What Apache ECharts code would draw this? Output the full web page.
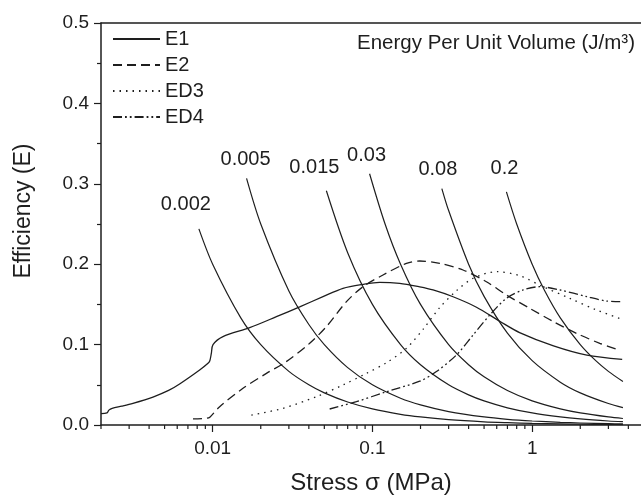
<!DOCTYPE html>
<html>
<head>
<meta charset="utf-8">
<script src="https://cdn.jsdelivr.net/npm/echarts@6/dist/echarts.min.js"></script>
<style>
  html, body { margin: 0; padding: 0; background: #fff; }
  #main { width: 641px; height: 497px; }
</style>
</head>
<body>
<div id="main"></div>
<script>
// 数据：横轴为应力 σ (MPa)，纵轴为效率 E
var e1Data = [[0.002, 0.0142], [0.00218, 0.0150], [0.00224, 0.0185], [0.00235, 0.0208], [0.0027, 0.0235],
    [0.00317, 0.027], [0.00423, 0.0348], [0.0053, 0.043], [0.00621, 0.051], [0.00829, 0.0684],
    [0.00935, 0.0767], [0.0096, 0.080], [0.00981, 0.089], [0.01005, 0.100], [0.0116, 0.110],
    [0.01705, 0.121], [0.02506, 0.1347], [0.03505, 0.147], [0.04905, 0.1596], [0.06546, 0.170],
    [0.0873, 0.175], [0.111, 0.1775], [0.1482, 0.1762], [0.1978, 0.1718], [0.2396, 0.168],
    [0.3197, 0.1595], [0.448, 0.1465], [0.627, 0.129], [0.834, 0.115], [1.36, 0.0985],
    [2.2, 0.087], [3.66, 0.0817]];
var e2Data = [[0.00753, 0.0075], [0.0092, 0.0085], [0.0096, 0.0096], [0.01106, 0.0228], [0.01548, 0.0456],
    [0.0217, 0.0642], [0.0289, 0.0788], [0.0405, 0.1016], [0.0515, 0.1223], [0.0688, 0.1534],
    [0.0873, 0.172], [0.1165, 0.1866], [0.1633, 0.201], [0.1978, 0.204], [0.2638, 0.201],
    [0.369, 0.1928], [0.5169, 0.1782], [0.690, 0.1617], [0.966, 0.1451], [1.36, 0.1285],
    [1.894, 0.114], [2.651, 0.1016], [3.5, 0.0933]];
var ed3Data = [[0.01747, 0.0124], [0.02755, 0.0207], [0.0446, 0.0352], [0.06546, 0.0498], [0.0917, 0.0642],
    [0.1224, 0.0775], [0.1633, 0.0954], [0.2074, 0.119], [0.2638, 0.146], [0.3357, 0.167],
    [0.427, 0.1825], [0.598, 0.1907], [0.834, 0.1857], [1.17, 0.172], [1.72, 0.1576],
    [2.526, 0.143], [3.66, 0.1315]];
var ed4Data = [[0.054, 0.0199], [0.0794, 0.029], [0.1224, 0.0414], [0.1978, 0.0545], [0.2516, 0.0665],
    [0.3357, 0.0871], [0.427, 0.112], [0.5428, 0.1368], [0.690, 0.1576], [0.878, 0.168],
    [1.116, 0.172], [1.489, 0.168], [2.2, 0.1596], [2.92, 0.1542], [3.66, 0.1534]];

// 等能量曲线（单位体积能量 J/m3）
var isoLevels = ['0.002', '0.005', '0.015', '0.03', '0.08', '0.2'];
var iso002 = [[0.0082, 0.2439], [0.01, 0.2], [0.015, 0.1333], [0.02, 0.1], [0.03, 0.0667], [0.04, 0.05],
    [0.05, 0.04], [0.07, 0.0286], [0.1, 0.02], [0.15, 0.0133], [0.2, 0.01], [0.3, 0.0067],
    [0.5, 0.004], [0.7, 0.0029], [1, 0.002], [1.5, 0.0013], [2, 0.001], [3, 0.00067], [3.7, 0.00054]];
var iso005 = [[0.0163, 0.3067], [0.02, 0.25], [0.03, 0.1667], [0.04, 0.125], [0.05, 0.1], [0.07, 0.0714],
    [0.1, 0.05], [0.15, 0.0333], [0.2, 0.025], [0.3, 0.0167], [0.5, 0.01], [0.7, 0.0071],
    [1, 0.005], [1.5, 0.0033], [2, 0.0025], [3, 0.0017], [3.7, 0.00135]];
var iso015 = [[0.0515, 0.2913], [0.07, 0.2143], [0.1, 0.15], [0.15, 0.1], [0.2, 0.075], [0.3, 0.05],
    [0.4, 0.0375], [0.5, 0.03], [0.7, 0.0214], [1, 0.015], [1.5, 0.01], [2, 0.0075], [3, 0.005], [3.7, 0.0041]];
var iso03 = [[0.096, 0.3125], [0.12, 0.25], [0.15, 0.2], [0.2, 0.15], [0.3, 0.1], [0.4, 0.075],
    [0.5, 0.06], [0.7, 0.0429], [1, 0.03], [1.5, 0.02], [2, 0.015], [3, 0.01], [3.7, 0.0081]];
var iso08 = [[0.272, 0.2941], [0.3, 0.2667], [0.4, 0.2], [0.5, 0.16], [0.7, 0.1143], [1, 0.08],
    [1.5, 0.0533], [2, 0.04], [3, 0.0267], [3.7, 0.0216]];
var iso2 = [[0.69, 0.2899], [0.8, 0.25], [1, 0.2], [1.2, 0.1667], [1.5, 0.1333], [2, 0.1],
    [2.5, 0.08], [3, 0.0667], [3.7, 0.0541]];
var isoData = [iso002, iso005, iso015, iso03, iso08, iso2];

// 对数轴次刻度位置
var xMinorTicks = [0.002, 0.003, 0.004, 0.005, 0.006, 0.007, 0.008, 0.009,
    0.02, 0.03, 0.04, 0.05, 0.06, 0.07, 0.08, 0.09,
    0.2, 0.3, 0.4, 0.5, 0.6, 0.7, 0.8, 0.9, 2, 3, 4];

var ink = '#1e1e1e';
var font = 'Liberation Sans, Arial, sans-serif';
// 曲线标签相对起点的偏移
var isoLabelOffsets = [[-13, -24], [-1, -19], [-12, -23], [-3, -18], [-4, -19], [-2, -23]];

var myChart = echarts.init(document.getElementById('main'));

var series = [];
var mainNames = ['E1', 'E2', 'ED3', 'ED4'];
var mainData = [e1Data, e2Data, ed3Data, ed4Data];
var mainDash = ['solid', [9, 5], [1.5, 5], [9, 3, 1.8, 3, 1.8, 3]];
mainNames.forEach(function (name, i) {
    series.push({
        name: name,
        type: 'line',
        data: mainData[i],
        symbol: 'none',
        smooth: 0.3,
        lineStyle: { color: ink, width: 1.3, type: mainDash[i] },
        itemStyle: { color: ink },
        z: 3
    });
});

isoData.forEach(function (arr, i) {
    var data = arr.map(function (p, j) {
        if (j !== 0) return p;
        return {
            value: p,
            label: {
                show: true,
                formatter: isoLevels[i],
                position: isoLabelOffsets[i],
                align: 'center',
                verticalAlign: 'middle',
                fontSize: 20,
                fontFamily: font,
                color: ink
            }
        };
    });
    series.push({
        name: 'W' + isoLevels[i],
        type: 'line',
        data: data,
        symbol: 'circle',
        symbolSize: 0,
        showSymbol: true,
        smooth: 0.3,
        lineStyle: { color: ink, width: 1.2 },
        itemStyle: { color: ink },
        z: 2
    });
});

series.push({
    type: 'custom',
    silent: true,
    data: xMinorTicks.map(function (v) { return [v, 0]; }),
    encode: { x: 0, y: 1 },
    renderItem: function (params, api) {
        var p = api.coord([api.value(0), 0]);
        return {
            type: 'line',
            shape: { x1: p[0], y1: p[1], x2: p[0], y2: p[1] + 4 },
            style: { stroke: ink, lineWidth: 1.2 }
        };
    },
    z: 5
});

var option = {
    animation: false,
    backgroundColor: '#fff',
    title: {
        text: 'Energy Per Unit Volume (J/m³)',
        right: 1,
        top: 28,
        textStyle: { fontSize: 20.5, fontWeight: 'normal', fontFamily: font, color: ink }
    },
    legend: {
        data: mainNames,
        orient: 'vertical',
        left: 107,
        top: 24,
        itemWidth: 47,
        itemHeight: 14,
        itemGap: 6,
        itemStyle: { opacity: 0 },
        textStyle: { fontSize: 20, fontFamily: font, color: ink }
    },
    grid: {
        left: 101,
        top: 23,
        right: 0,
        bottom: 72,
        containLabel: false,
        outerBoundsMode: 'none'
    },
    xAxis: [{
        type: 'log',
        logBase: 10,
        min: 0.002,
        max: 4.8,
        name: 'Stress σ (MPa)',
        nameLocation: 'middle',
        nameGap: 46,
        nameTextStyle: { fontSize: 24, fontFamily: font, color: ink },
        axisLine: { show: true, onZero: false, lineStyle: { color: ink, width: 1.5 } },
        axisTick: { show: true, length: 7, lineStyle: { color: ink, width: 1.2 } },
        axisLabel: {
            fontSize: 19, fontFamily: font, color: ink, margin: 14,
            showMinLabel: false, showMaxLabel: false,
            formatter: function (v) { return String(+v.toPrecision(3)); }
        },
        splitLine: { show: false }
    }, {
        type: 'log',
        logBase: 10,
        min: 0.002,
        max: 4.8,
        position: 'top',
        axisLine: { show: true, onZero: false, lineStyle: { color: ink, width: 1.5 } },
        axisTick: { show: false },
        axisLabel: { show: false },
        splitLine: { show: false }
    }],
    yAxis: {
        type: 'value',
        min: 0,
        max: 0.5,
        interval: 0.1,
        name: 'Efficiency (E)',
        nameLocation: 'middle',
        nameGap: 66,
        nameTextStyle: { fontSize: 23, fontFamily: font, color: ink, padding: [0, 0, 0, 26] },
        axisLine: { show: true, onZero: false, lineStyle: { color: ink, width: 1.5 } },
        axisTick: { show: true, length: 7, lineStyle: { color: ink, width: 1.2 } },
        minorTick: { show: true, splitNumber: 2, length: 4, lineStyle: { color: ink, width: 1.2 } },
        axisLabel: {
            fontSize: 19, fontFamily: font, color: ink, margin: 12,
            formatter: function (v) { return v.toFixed(1); }
        },
        splitLine: { show: false }
    },
    series: series
};

option && myChart.setOption(option);
</script>
</body>
</html>
